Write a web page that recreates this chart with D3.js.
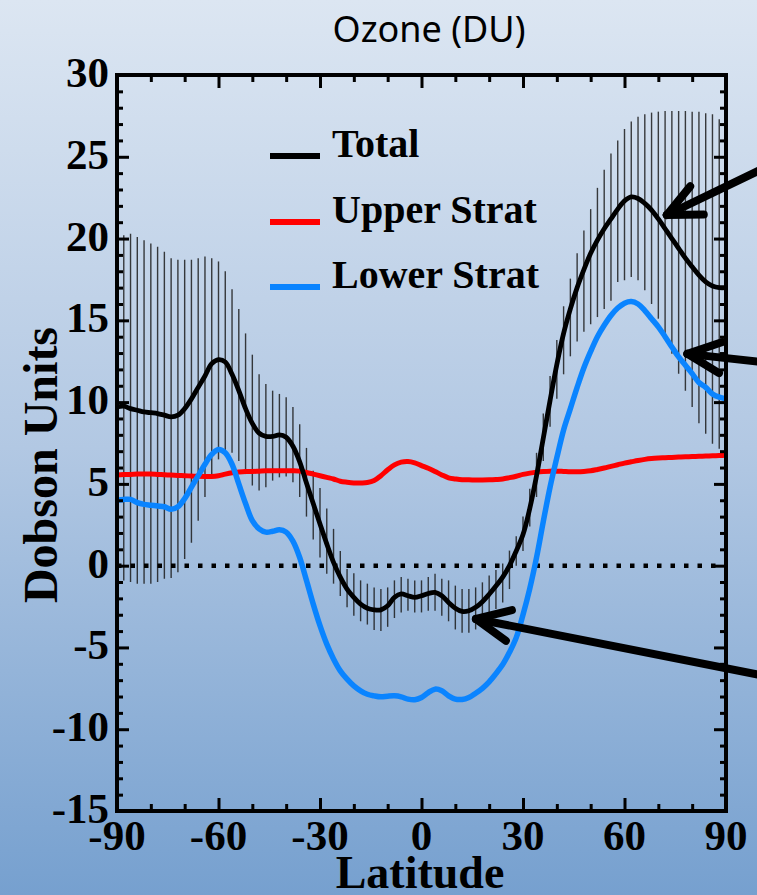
<!DOCTYPE html>
<html>
<head>
<meta charset="utf-8">
<script src="https://cdn.jsdelivr.net/npm/d3@7"></script>
<style>
  html, body { margin: 0; padding: 0; }
  body { width: 757px; height: 895px; overflow: hidden; }
  svg { display: block; }
</style>
</head>
<body>
<svg id="chart" width="757" height="895"></svg>
<script>
// ---------------- DATA ----------------
const latitudes = [-90,-88,-86,-84,-82,-80,-78,-76,-74,-72,-70,-68,-66,-64,-62,-60,-58,-56,-54,-52,-50,-48,-46,-44,-42,-40,-38,-36,-34,-32,-30,-28,-26,-24,-22,-20,-18,-16,-14,-12,-10,-8,-6,-4,-2,0,2,4,6,8,10,12,14,16,18,20,22,24,26,28,30,32,34,36,38,40,42,44,46,48,50,52,54,56,58,60,62,64,66,68,70,72,74,76,78,80,82,84,86,88,90];

const totalOzone = [9.7,9.75,9.6,9.5,9.4,9.35,9.3,9.2,9.1,9.2,9.6,10.2,10.9,11.6,12.35,12.6,12.45,11.7,10.7,9.6,8.7,8.1,7.9,7.9,8.0,7.85,7.3,6.35,5.05,3.8,2.55,1.33,0.2,-0.7,-1.43,-1.94,-2.35,-2.6,-2.7,-2.7,-2.45,-1.94,-1.73,-1.84,-1.94,-1.84,-1.7,-1.63,-1.84,-2.25,-2.6,-2.8,-2.76,-2.55,-2.2,-1.75,-1.25,-0.7,0.0,0.9,1.9,3.5,5.5,7.8,10.1,12.3,14.2,15.7,17.0,18.1,19.1,19.9,20.6,21.2,21.8,22.3,22.55,22.45,22.15,21.74,21.2,20.6,20.0,19.4,18.8,18.27,17.76,17.35,17.1,17.0,17.0];

const upperStrat = [5.55,5.57,5.58,5.6,5.6,5.6,5.58,5.56,5.54,5.52,5.5,5.48,5.46,5.45,5.45,5.5,5.6,5.68,5.72,5.75,5.76,5.78,5.8,5.8,5.8,5.8,5.8,5.78,5.7,5.6,5.5,5.4,5.3,5.16,5.1,5.06,5.06,5.08,5.2,5.5,5.86,6.16,6.33,6.37,6.29,6.12,5.96,5.76,5.55,5.37,5.3,5.25,5.25,5.24,5.24,5.25,5.27,5.3,5.38,5.47,5.58,5.66,5.72,5.76,5.78,5.78,5.76,5.74,5.74,5.76,5.8,5.88,5.97,6.07,6.17,6.27,6.35,6.43,6.5,6.55,6.58,6.6,6.62,6.64,6.66,6.67,6.69,6.7,6.72,6.73,6.75];

const lowerStrat = [4.0,4.05,4.05,3.85,3.75,3.7,3.65,3.6,3.45,3.6,4.1,4.8,5.5,6.2,6.8,7.1,6.9,6.2,5.0,3.8,2.75,2.25,2.05,2.1,2.2,2.05,1.5,0.5,-0.9,-2.35,-3.67,-4.8,-5.7,-6.43,-6.94,-7.35,-7.65,-7.86,-7.96,-8.02,-7.98,-7.96,-8.02,-8.16,-8.2,-8.06,-7.76,-7.55,-7.65,-7.96,-8.16,-8.18,-8.06,-7.8,-7.5,-7.1,-6.6,-6.05,-5.3,-4.4,-3.0,-1.4,0.5,2.7,4.8,6.6,8.3,9.6,10.9,12.1,13.1,14.0,14.7,15.3,15.75,16.05,16.15,16.0,15.6,15.1,14.6,14.0,13.37,12.76,12.25,11.74,11.2,10.9,10.5,10.3,10.2];

// error bars on Total (latitudes -88 ... 88)
const barLatitudes = [-88,-86,-84,-82,-80,-78,-76,-74,-72,-70,-68,-66,-64,-62,-60,-58,-56,-54,-52,-50,-48,-46,-44,-42,-40,-38,-36,-34,-32,-30,-28,-26,-24,-22,-20,-18,-16,-14,-12,-10,-8,-6,-4,-2,0,2,4,6,8,10,12,14,16,18,20,22,24,26,28,30,32,34,36,38,40,42,44,46,48,50,52,54,56,58,60,62,64,66,68,70,72,74,76,78,80,82,84,86,88];
const barUpper = [20.2,20.3,20.1,19.9,19.7,19.5,19.2,18.8,18.7,18.7,18.7,18.8,18.9,18.8,18.6,18.0,16.9,15.7,14.2,12.9,11.7,11.1,10.7,10.5,10.3,9.7,8.65,7.2,5.8,4.75,3.5,2.25,0.9,-0.2,-0.47,-0.9,-1.1,-1.33,-1.43,-1.33,-0.9,-0.7,-0.8,-0.9,-0.9,-0.7,-0.5,-0.8,-0.9,-1.22,-1.43,-1.43,-1.33,-1.02,-0.6,-0.27,0.14,0.92,1.8,3.0,4.7,6.9,9.3,11.6,13.8,15.86,17.55,19.1,20.5,21.8,23.1,24.2,25.2,26.0,26.7,27.15,27.45,27.6,27.7,27.76,27.8,27.8,27.8,27.8,27.76,27.76,27.66,27.6,27.3];
const barLower = [-0.9,-1.0,-1.1,-1.1,-1.1,-1.0,-0.8,-0.75,-0.4,0.4,1.4,2.75,4.2,5.5,6.5,7.0,6.9,6.4,5.6,4.9,4.6,4.8,5.2,5.4,5.45,5.1,4.2,3.0,1.6,0.5,-0.5,-1.1,-1.85,-2.55,-3.06,-3.4,-3.6,-3.94,-4.0,-3.74,-3.2,-2.86,-2.76,-2.86,-2.86,-2.76,-2.76,-3.06,-3.4,-3.9,-4.1,-4.1,-3.9,-3.47,-3.16,-2.65,-2.25,-1.43,0.0,0.9,2.4,4.2,6.4,8.5,10.2,11.7,12.8,13.7,14.3,14.76,15.2,15.7,16.2,17.35,17.45,17.65,17.45,16.84,16.0,15.1,14.2,12.96,11.74,10.7,9.7,8.7,8.06,7.45,7.15];

const xTickLabels = [-90,-60,-30,0,30,60,90];
const yTickLabels = [-15,-10,-5,0,5,10,15,20,25,30];
const xMinorTicks = [-80,-70,-50,-40,-20,-10,10,20,40,50,70,80];
const yMinorTicks = [-14,-13,-12,-11,-9,-8,-7,-6,-4,-3,-2,-1,1,2,3,4,6,7,8,9,11,12,13,14,16,17,18,19,21,22,23,24,26,27,28,29];

const seriesNames = ["Total","Upper Strat","Lower Strat"];
const seriesColors = ["#000000","#ff0000","#0a84ff"];

// arrow annotations: [tipLat, tipValue, tailLat, tailValue]
const arrowsData = [
  [72.5, 21.44, 100.05, 24.19],
  [78.6, 12.95, 100.05, 12.46],
  [16.1, -3.26, 100.05, -6.68]
];

// ---------------- DRAW ----------------
const svg = d3.select("#chart");
const W = 757, H = 895;
const L = 117, R = 726, T = 75, B = 811;

const defs = svg.append("defs");
const grad = defs.append("linearGradient").attr("id","bg").attr("x1",0).attr("y1",0).attr("x2",0).attr("y2",1);
grad.append("stop").attr("offset","0%").attr("stop-color","#dce6f2");
grad.append("stop").attr("offset","50%").attr("stop-color","#b2c8e3");
grad.append("stop").attr("offset","100%").attr("stop-color","#76a0cf");
svg.append("rect").attr("width",W).attr("height",H).attr("fill","url(#bg)");

const x = d3.scaleLinear().domain([-90,90]).range([L,R]);
const y = d3.scaleLinear().domain([-15,30]).range([B,T]);

const serif = "'Liberation Serif','Times New Roman',serif";

// title
svg.append("text").attr("x",429).attr("y",42).attr("text-anchor","middle")
  .attr("font-family","'Noto Sans','Open Sans',sans-serif").attr("font-size",36)
  .attr("fill","#000").text("Ozone (DU)");

// error bars
const plot = svg.append("g");
plot.selectAll("line.err").data(barLatitudes).enter().append("line")
  .attr("class","err")
  .attr("x1",d=>x(d)).attr("x2",d=>x(d))
  .attr("y1",(d,i)=>y(barUpper[i])).attr("y2",(d,i)=>y(barLower[i]))
  .attr("stroke","#1c1c1c").attr("stroke-width",1.4).attr("stroke-opacity",0.85);

// zero dotted line
plot.append("line").attr("x1",x(-90)).attr("x2",x(90)).attr("y1",y(0)).attr("y2",y(0))
  .attr("stroke","#000").attr("stroke-width",4.5).attr("stroke-dasharray","4.5,9");

// series lines
const lineGen = vals => d3.line().x((d,i)=>x(latitudes[i])).y(d=>y(d)).curve(d3.curveCatmullRom.alpha(0.5))(vals);
plot.append("path").attr("d",lineGen(upperStrat)).attr("fill","none").attr("stroke",seriesColors[1]).attr("stroke-width",5);
plot.append("path").attr("d",lineGen(lowerStrat)).attr("fill","none").attr("stroke",seriesColors[2]).attr("stroke-width",5.5);
plot.append("path").attr("d",lineGen(totalOzone)).attr("fill","none").attr("stroke",seriesColors[0]).attr("stroke-width",4.8);

// axes ticks (inward) on all four sides
function styleAxis(g){ g.select(".domain").remove(); g.selectAll(".tick line").attr("stroke","#000").attr("stroke-width",3); }
svg.append("g").attr("transform",`translate(0,${B})`).call(d3.axisBottom(x).tickValues(xTickLabels).tickSize(-13).tickFormat("")).call(styleAxis);
svg.append("g").attr("transform",`translate(0,${B})`).call(d3.axisBottom(x).tickValues(xMinorTicks).tickSize(-7).tickFormat("")).call(styleAxis);
svg.append("g").attr("transform",`translate(0,${T})`).call(d3.axisTop(x).tickValues(xTickLabels).tickSize(-13).tickFormat("")).call(styleAxis);
svg.append("g").attr("transform",`translate(0,${T})`).call(d3.axisTop(x).tickValues(xMinorTicks).tickSize(-7).tickFormat("")).call(styleAxis);
svg.append("g").attr("transform",`translate(${L},0)`).call(d3.axisLeft(y).tickValues(yTickLabels).tickSize(-12).tickFormat("")).call(styleAxis);
svg.append("g").attr("transform",`translate(${L},0)`).call(d3.axisLeft(y).tickValues(yMinorTicks).tickSize(-6).tickFormat("")).call(styleAxis);
svg.append("g").attr("transform",`translate(${R},0)`).call(d3.axisRight(y).tickValues(yTickLabels).tickSize(-12).tickFormat("")).call(styleAxis);
svg.append("g").attr("transform",`translate(${R},0)`).call(d3.axisRight(y).tickValues(yMinorTicks).tickSize(-6).tickFormat("")).call(styleAxis);

// frame
svg.append("rect").attr("x",L).attr("y",T).attr("width",R-L).attr("height",B-T)
  .attr("fill","none").attr("stroke","#000").attr("stroke-width",4);

// tick labels
svg.selectAll("text.yl").data(yTickLabels).enter().append("text").attr("class","yl")
  .attr("x",109).attr("y",d=>y(d)+12).attr("text-anchor","end")
  .attr("font-family",serif).attr("font-weight","bold").attr("font-size",43)
  .text(d=>String(d));
svg.selectAll("text.xl").data(xTickLabels).enter().append("text").attr("class","xl")
  .attr("x",d=>x(d)).attr("y",850).attr("text-anchor","middle")
  .attr("font-family",serif).attr("font-weight","bold").attr("font-size",43)
  .text(d=>String(d));

// axis titles
svg.append("text").attr("x",420).attr("y",888).attr("text-anchor","middle")
  .attr("font-family",serif).attr("font-weight","bold").attr("font-size",46).text("Latitude");
svg.append("text").attr("transform","translate(57,465) rotate(-90)").attr("text-anchor","middle")
  .attr("font-family",serif).attr("font-weight","bold").attr("font-size",48).text("Dobson Units");

// legend
const legY = [156, 222, 287];
seriesNames.forEach((n,i)=>{
  svg.append("line").attr("x1",270).attr("x2",320).attr("y1",legY[i]).attr("y2",legY[i])
    .attr("stroke",seriesColors[i]).attr("stroke-width",6);
  svg.append("text").attr("x",332).attr("y",legY[i]+1)
    .attr("font-family",serif).attr("font-weight","bold").attr("font-size",40).text(n);
});

// arrows
const ag = svg.append("g").attr("stroke","#000").attr("stroke-width",8).attr("stroke-linecap","round").attr("fill","none");
arrowsData.forEach(a=>{
  const tx = x(a[0]), ty = y(a[1]), sx = x(a[2]), sy = y(a[3]);
  const ang = Math.atan2(sy-ty, sx-tx);
  const len = 37, spread = 25*Math.PI/180;
  ag.append("line").attr("x1",sx).attr("y1",sy).attr("x2",tx).attr("y2",ty);
  [ang-spread, ang+spread].forEach(b=>{
    ag.append("line").attr("x1",tx).attr("y1",ty)
      .attr("x2",tx+len*Math.cos(b)).attr("y2",ty+len*Math.sin(b));
  });
});
</script>
</body>
</html>
